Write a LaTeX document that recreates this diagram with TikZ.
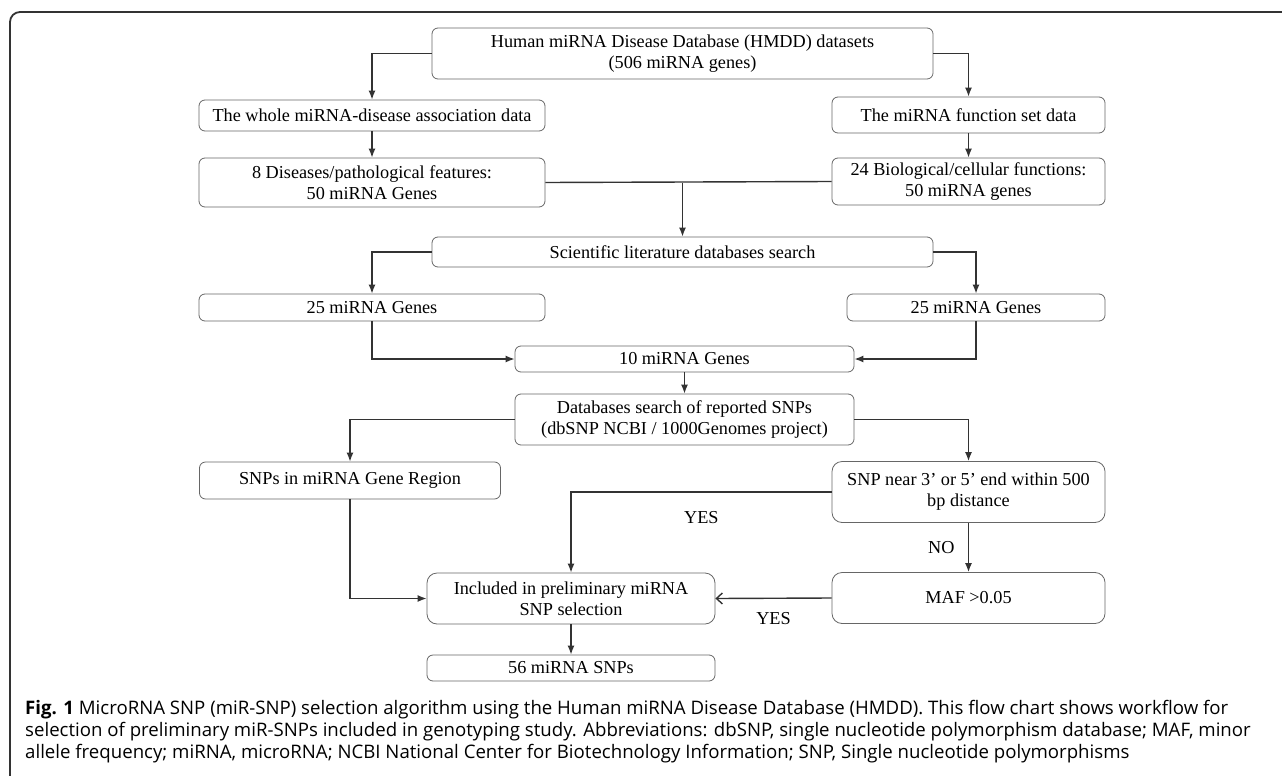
\documentclass[tikz,border=0pt]{standalone}
\usepackage{fontspec}
\setmainfont{Liberation Serif}
\newfontfamily\capfont{Open Sans}
\usetikzlibrary{arrows.meta,calc}
\newsavebox\capmeasure
\newsavebox\boxmeasure

\begin{document}
% fit caption and box text to the widths of the reference
\sbox\capmeasure{\capfont\fontsize{10}{12}\selectfont\textbf{Fig. 1} MicroRNA SNP (miR-SNP) selection algorithm using the Human miRNA Disease Database (HMDD). This flow chart shows workflow for}
\sbox\boxmeasure{\fontsize{10}{12}\selectfont The whole miRNA-disease association data}
\pgfmathsetmacro\capsize{10*1203/\wd\capmeasure}
\pgfmathsetmacro\txtsize{10*319/\wd\boxmeasure}
\begin{tikzpicture}[x=1pt,y=-1pt,
    box/.style={draw=black!60, line width=0.8pt, rounded corners=6pt, inner sep=0pt,
      align=center, font=\fontsize{\txtsize}{21}\selectfont},
    tallbox/.style={box, rounded corners=10pt},
    flow/.style={draw=black!80, line width=1.4pt, -{Latex[length=9pt,width=7pt]}},
    link/.style={draw=black!80, line width=1.4pt},
    lbl/.style={font=\fontsize{\txtsize}{21}\selectfont}]
  \useasboundingbox (0,0) rectangle (1282,776);
  % Draw the frame
  \draw[line width=1.8pt, black!80, rounded corners=10pt] (1300,12) -- (10,12) -- (10,800);
  % Draw the boxes
  \node[box, minimum width=501, minimum height=51] (hmdd) at (682.5,53.5)
    {Human miRNA Disease Database (HMDD) datasets\\(506 miRNA genes)};
  \node[box, minimum width=346, minimum height=31] (whole) at (372,115.5)
    {The whole miRNA-disease association data};
  \node[box, minimum width=273, minimum height=36] (func) at (968.5,115)
    {The miRNA function set data};
  \node[box, minimum width=346, minimum height=49] (dis8) at (372,182.5)
    {8 Diseases/pathological features:\\50 miRNA Genes};
  \node[box, minimum width=273, minimum height=47] (bio24) at (968.5,181.5)
    {24 Biological/cellular functions:\\50 miRNA genes};
  \node[box, minimum width=501, minimum height=30] (sci) at (682.5,252)
    {Scientific literature databases search};
  \node[box, minimum width=346, minimum height=27] (genl) at (372,307.5) {25 miRNA Genes};
  \node[box, minimum width=258, minimum height=27] (genr) at (976,307.5) {25 miRNA Genes};
  \node[box, minimum width=339, minimum height=26] (gen10) at (684.5,359) {10 miRNA Genes};
  \node[box, minimum width=339, minimum height=51] (dbs) at (684.5,419.5)
    {Databases search of reported SNPs\\(dbSNP NCBI / 1000Genomes project)};
  \node[box, minimum width=301, minimum height=37] (snpreg) at (350,480.5)
    {SNPs in miRNA Gene Region};
  \node[tallbox, minimum width=273, minimum height=61] (snpnear) at (968.5,492)
    {SNP near 3’ or 5’ end within 500\\bp distance};
  \node[tallbox, minimum width=288, minimum height=51] (incl) at (571,598.5)
    {Included in preliminary miRNA\\SNP selection};
  \node[tallbox, minimum width=273, minimum height=51] (maf) at (968.5,598)
    {MAF >0.05};
  \node[box, minimum width=288, minimum height=26] (snp56) at (571,668) {56 miRNA SNPs};
  % Draw the connectors
  \draw[flow] (hmdd.west) -| (whole.north);
  \draw[flow] (hmdd.east) -| (func.north);
  \draw[flow] (whole) -- (dis8);
  \draw[flow] (func) -- (bio24);
  \draw[link] (dis8.east) -- (bio24.west);
  \coordinate (join) at (sci.north |- dis8.east);
  \draw[flow] (join) -- (sci.north);
  \draw[flow] (sci.west) -| (genl.north);
  \draw[flow] (sci.east) -| (genr.north);
  \draw[flow] (genl.south) |- (gen10.west);
  \draw[flow] (genr.south) |- (gen10.east);
  \draw[flow] (gen10) -- (dbs);
  \draw[flow] (dbs.west) -| (snpreg.north);
  \draw[flow] (dbs.east) -| (snpnear.north);
  \draw[flow] (snpreg.south) |- (incl.west);
  \draw[flow] (snpnear.west) -| node[pos=0.25, below=15pt, lbl] {YES} (incl.north);
  \draw[flow] (snpnear.south) -- node[left=10pt, lbl] {NO} (maf.north);
  \draw[link, -{Straight Barb[length=6pt,width=11pt]}] (maf.west) -- node[below=10pt, lbl] {YES} (incl.east);
  \draw[flow] (incl) -- (snp56);
  % caption
  \node[anchor=north west, align=left, inner sep=0pt, font=\capfont\fontsize{\capsize}{22}\selectfont] (caption) at (25,700)
    {\textbf{Fig. 1} MicroRNA SNP (miR-SNP) selection algorithm using the Human miRNA Disease Database (HMDD). This flow chart shows workflow for\\
     selection of preliminary miR-SNPs included in genotyping study. Abbreviations: dbSNP, single nucleotide polymorphism database; MAF, minor\\
     allele frequency; miRNA, microRNA; NCBI National Center for Biotechnology Information; SNP, Single nucleotide polymorphisms};
\end{tikzpicture}
\end{document}
